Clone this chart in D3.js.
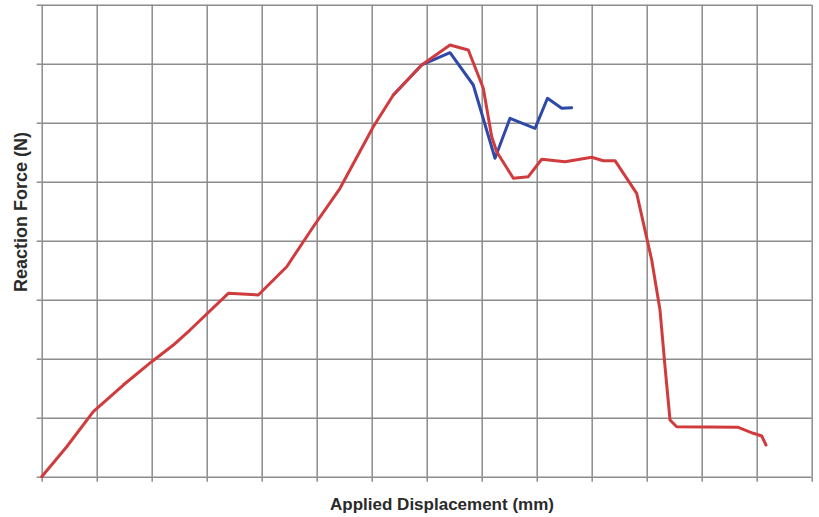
<!DOCTYPE html>
<html>
<head>
<meta charset="utf-8">
<script src="https://cdn.jsdelivr.net/npm/d3@7"></script>
<style>
  body { margin: 0; background: #fff; }
  svg { display: block; }
</style>
</head>
<body>
<div id="chart"></div>
<script>
"use strict";

// === DATA (grid units: x 0-14, y 0-8) ===
const redX = [0, 0.455, 0.938, 1.484, 2.0, 2.393, 2.696, 3.393, 3.938, 4.455, 4.938, 5.424, 6.029, 6.393,
  6.909, 7.424, 7.756, 8.029, 8.182, 8.273, 8.575, 8.847, 9.091, 9.515, 10.0, 10.211, 10.424, 10.818,
  11.091, 11.242, 11.333, 11.424, 11.545, 12.665, 12.938, 13.091, 13.169];
const redY = [0, 0.508, 1.102, 1.554, 1.949, 2.232, 2.486, 3.108, 3.080, 3.559, 4.237, 4.888, 5.932, 6.469,
  6.978, 7.317, 7.232, 6.583, 5.763, 5.508, 5.058, 5.085, 5.380, 5.339, 5.414, 5.356, 5.356, 4.803,
  3.673, 2.825, 1.864, 0.961, 0.847, 0.837, 0.736, 0.690, 0.537];

const blueX = [6.393, 6.909, 7.424, 7.847, 8.242, 8.515, 8.970, 9.196, 9.455, 9.636];
const blueY = [6.469, 6.978, 7.186, 6.639, 5.397, 6.075, 5.905, 6.414, 6.244, 6.254];

const xTicks = d3.range(0, 15);
const yTicks = d3.range(0, 9);

const xLabel = "Applied Displacement (mm)";
const yLabel = "Reaction Force (N)";

// === SVG SETUP ===
const width = 819, height = 517;
const plot = { left: 41.7, right: 811.7, top: 4.7, bottom: 476.7 };

const svg = d3.select("#chart")
  .append("svg")
  .attr("width", width)
  .attr("height", height);

// === SCALES ===
const x = d3.scaleLinear().domain([0, 14]).range([plot.left, plot.right]);
const y = d3.scaleLinear().domain([0, 8]).range([plot.bottom, plot.top]);

const gridColor = "#8c8c8c";

// === GRID + TICKS ===
const xGrid = svg.append("g")
  .attr("transform", `translate(0,${plot.bottom})`)
  .call(d3.axisBottom(x).tickValues(xTicks).tickSize(-(plot.bottom - plot.top)).tickSizeOuter(0).tickFormat(""));
const xOut = svg.append("g")
  .attr("transform", `translate(0,${plot.bottom})`)
  .call(d3.axisBottom(x).tickValues(xTicks).tickSize(5).tickSizeOuter(0).tickFormat(""));

const yGrid = svg.append("g")
  .attr("transform", `translate(${plot.left},0)`)
  .call(d3.axisLeft(y).tickValues(yTicks).tickSize(-(plot.right - plot.left)).tickSizeOuter(0).tickFormat(""));
const yOut = svg.append("g")
  .attr("transform", `translate(${plot.left},0)`)
  .call(d3.axisLeft(y).tickValues(yTicks).tickSize(5).tickSizeOuter(0).tickFormat(""));

[xGrid, xOut, yGrid, yOut].forEach(g => {
  g.select(".domain").remove();
  g.selectAll("line").attr("stroke", gridColor).attr("stroke-width", 1.5);
});

// === LINES ===
const line = d3.line()
  .x(d => x(d[0]))
  .y(d => y(d[1]));

const blueData = blueX.map((v, i) => [v, blueY[i]]);
const redData = redX.map((v, i) => [v, redY[i]]);

svg.append("path")
  .datum(blueData)
  .attr("d", line)
  .attr("fill", "none")
  .attr("stroke", "#2f49a8")
  .attr("stroke-width", 3)
  .attr("stroke-linejoin", "round")
  .attr("stroke-linecap", "round");

svg.append("path")
  .datum(redData)
  .attr("d", line)
  .attr("fill", "none")
  .attr("stroke", "#d03c3e")
  .attr("stroke-width", 3)
  .attr("stroke-linejoin", "round")
  .attr("stroke-linecap", "round");

// === AXIS LABELS ===
svg.append("text")
  .attr("x", 442)
  .attr("y", 510)
  .attr("text-anchor", "middle")
  .attr("font-family", "Liberation Sans, Arial, sans-serif")
  .attr("font-weight", "bold")
  .attr("font-size", 17)
  .attr("fill", "#2a2a2a")
  .text(xLabel);

svg.append("text")
  .attr("transform", "rotate(-90)")
  .attr("x", -212)
  .attr("y", 27)
  .attr("text-anchor", "middle")
  .attr("font-family", "Liberation Sans, Arial, sans-serif")
  .attr("font-weight", "bold")
  .attr("font-size", 18)
  .attr("fill", "#2a2a2a")
  .text(yLabel);
</script>
</body>
</html>
